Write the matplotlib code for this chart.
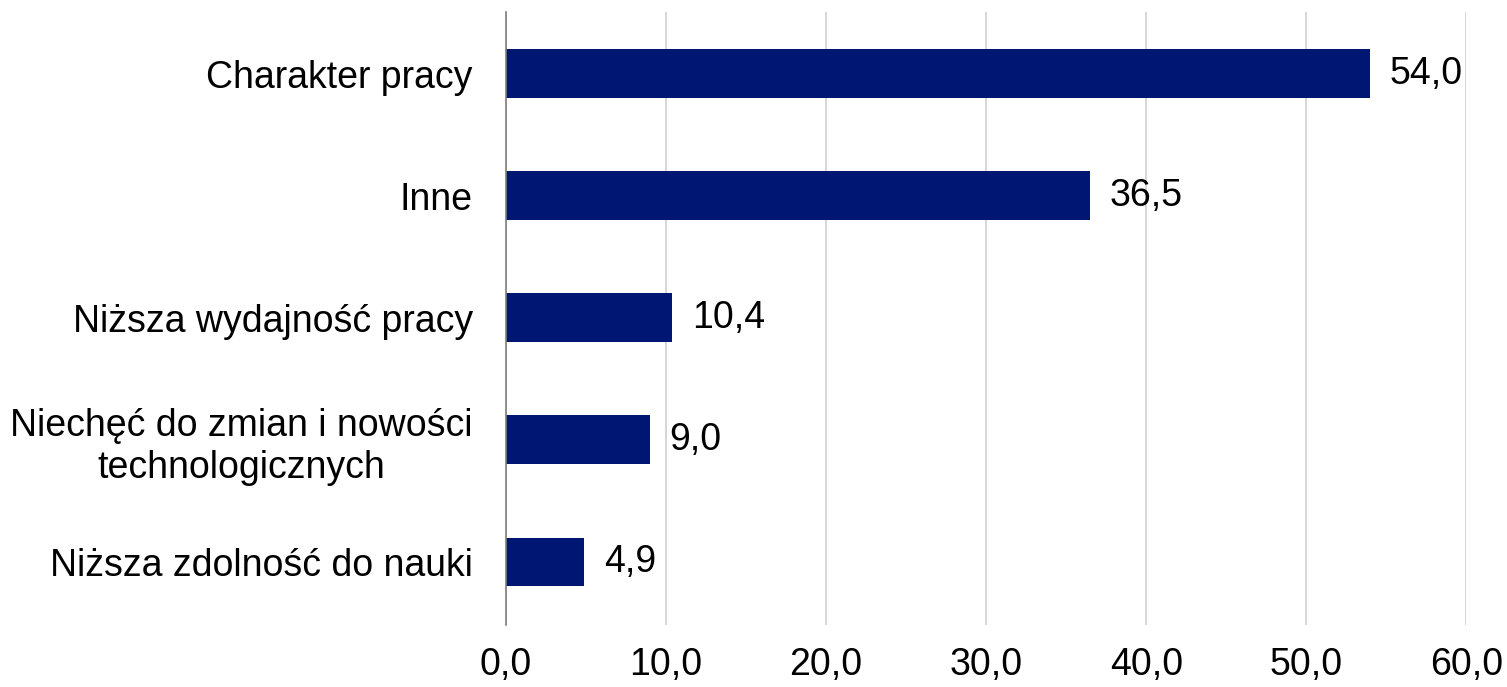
import matplotlib.pyplot as plt

plt.rcParams['font.family'] = ['Liberation Sans', 'DejaVu Sans']

categories = ['Charakter pracy', 'Inne', 'Niższa wydajność pracy',
              'Niechęć do zmian i nowości\ntechnologicznych',
              'Niższa zdolność do nauki']
values = [54.0, 36.5, 10.4, 9.0, 4.9]
xticks = [0, 10, 20, 30, 40, 50, 60]

fig = plt.figure(figsize=(15.07, 6.87), dpi=100)
ax = fig.add_axes([0.3358, 0.0902, 0.6372, 0.8923])

ypos = list(range(len(categories)))
bars = ax.barh(ypos, values, height=0.4, color='#001673', zorder=3)
ax.set_ylim(len(categories) - 0.484, -0.504)
ax.set_xlim(0, 60)

ax.set_yticks(ypos)
ax.set_yticklabels(categories, fontsize=27, ha='right', multialignment='center')
ax.set_xticks(xticks)
ax.set_xticklabels([f'{t:.1f}'.replace('.', ',') for t in xticks], fontsize=27)
ax.tick_params(axis='y', length=0, pad=24)
ax.tick_params(axis='x', length=0, pad=16)

ax.bar_label(bars, labels=[f'{v:.1f}'.replace('.', ',') for v in values],
             padding=14, fontsize=27)

ax.grid(axis='x', color='#d0d0d0', linewidth=1.2, zorder=0)
for s in ['top', 'right', 'bottom']:
    ax.spines[s].set_visible(False)
ax.spines['left'].set_color('#7f7f7f')
ax.spines['left'].set_linewidth(1.2)
ax.spines['left'].set_zorder(4)

fig.savefig('out.png', dpi=100)
